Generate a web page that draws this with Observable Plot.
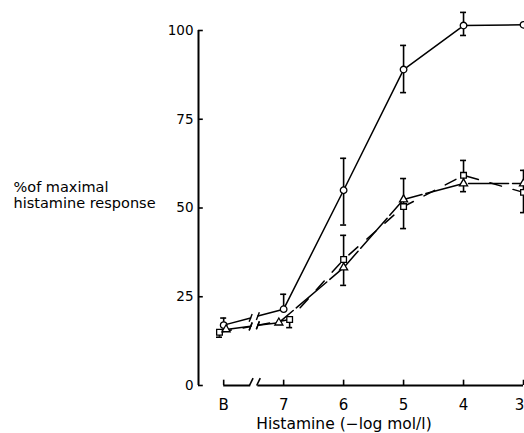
<!DOCTYPE html>
<html>
<head>
<meta charset="utf-8">
<script src="https://cdn.jsdelivr.net/npm/d3@7"></script>
<script src="https://cdn.jsdelivr.net/npm/@observablehq/plot@0.6"></script>
<style>
  html, body { margin: 0; padding: 0; background: white; }
</style>
</head>
<body>
<div id="chart"></div>
<script>
// ---- data ----
const xTickValues = [8, 7, 6, 5, 4, 3];          // 8 stands for "B" (basal)
const xTickLabels = ["B", "7", "6", "5", "4", "3"];
const yTicks = [0, 25, 50, 75, 100];

const circleX = [8, 7, 6, 5, 4, 3];
const circleY = [17, 21.5, 55, 89, 101.4, 101.6];
const circleErrUp = [2, 4.2, 9, 6.8, 3.7, 0];
const circleErrDown = [0, 0, 9.8, 6.5, 2.8, 0];

const squareX = [8.07, 6.9, 6, 5, 4, 3];
const squareY = [15, 18.6, 35.5, 50.4, 59.2, 54.4];
const squareErrUp = [0, 0, 6.8, 7.9, 4.2, 6.2];
const squareErrDown = [1.4, 2.3, 7.3, 6.2, 4.6, 5.7];

const triangleX = [7.96, 7.08, 6, 5, 4, 3];
const triangleY = [15.8, 17.7, 33.2, 52.4, 56.9, 56.9];

const yLabel = "%of maximal\nhistamine response";
const xLabel = "Histamine (\u2212log mol/l)";

// axis break between B and 7
const breakLeft = 7.55, breakRight = 7.43;
const yAxisAt = 8.42;

// ---- build tables ----
const series = [
  {name: "circle", symbol: "circle", r: 4.2, dash: null, xs: circleX, ys: circleY, up: circleErrUp, down: circleErrDown},
  {name: "square", symbol: "square", r: 4, dash: "12,12", xs: squareX, ys: squareY, up: squareErrUp, down: squareErrDown},
  {name: "triangle", symbol: "triangle", r: 3.5, dash: "40,4", xs: triangleX, ys: triangleY, up: null, down: null}
];

const points = series.flatMap(s => s.xs.map((x, i) => ({
  series: s.name, symbol: s.symbol, r: s.r, x, y: s.ys[i],
  up: s.up ? s.up[i] : 0, down: s.down ? s.down[i] : 0
})));

const segments = [];
const slashes = [];
for (const s of series) {
  const x0 = s.xs[0], y0 = s.ys[0], x1 = s.xs[1], y1 = s.ys[1];
  const at = bx => y0 + (y1 - y0) * (bx - x0) / (x1 - x0);
  const yl = at(breakLeft), yr = at(breakRight);
  segments.push({key: s.name + "-a", dash: s.dash, pts: [{x: x0, y: y0}, {x: breakLeft, y: yl}]});
  segments.push({key: s.name + "-b", dash: s.dash, pts: [{x: breakRight, y: yr}, ...s.xs.slice(1).map((x, i) => ({x, y: s.ys[i + 1]}))]});
  slashes.push({x: breakLeft, y: yl}, {x: breakRight, y: yr});
}
const lineRows = segments.flatMap(seg => seg.pts.map(p => ({...p, key: seg.key, dash: seg.dash})));

const errRows = points.filter(p => p.up > 0 || p.down > 0);

const chart = Plot.plot({
  width: 524,
  height: 433,
  marginLeft: 198,
  marginRight: 1,
  marginTop: 30,
  marginBottom: 48,
  x: {domain: [yAxisAt, 3], axis: null},
  y: {domain: [0, 100], axis: null},
  style: {fontFamily: "'DejaVu Sans', sans-serif", fontSize: "14px", background: "white", color: "black", overflow: "visible"},
  marks: [
    // y axis
    Plot.ruleX([yAxisAt], {y1: 0, y2: 100, stroke: "black", strokeWidth: 2}),
    Plot.ruleY(yTicks, {y: d => d, x1: yAxisAt, x2: yAxisAt - 0.08, stroke: "black", strokeWidth: 1.6}),
    Plot.text(yTicks, {x: yAxisAt, y: d => d, text: d => String(d), textAnchor: "end", dx: -5, fontSize: 13.5}),
    Plot.text([yLabel], {frameAnchor: "left", y: 50, dx: -185, dy: -13, textAnchor: "start", lineAnchor: "middle", lineHeight: 1.05, fontSize: 14.5}),
    // x axis with break
    Plot.ruleY([0], {x1: 8, x2: breakLeft, stroke: "black", strokeWidth: 2}),
    Plot.ruleY([0], {x1: breakRight, x2: 3, stroke: "black", strokeWidth: 2}),
    Plot.link([breakLeft, breakRight], {x1: d => d + 0.02, y1: 0, x2: d => d - 0.04, y2: 2.1, stroke: "black", strokeWidth: 1.6}),
    Plot.ruleX(xTickValues, {x: d => d, y1: 0, y2: 1.5, stroke: "black", strokeWidth: 1.6}),
    Plot.text(xTickValues.slice(0, 5), {x: d => d, y: 0, text: (d, i) => xTickLabels[i], dy: 20, lineAnchor: "middle", fontSize: 15}),
    Plot.text(xTickValues.slice(5), {x: d => d, y: 0, text: (d, i) => xTickLabels[5 + i], dx: -4, dy: 20, lineAnchor: "middle", fontSize: 15}),
    Plot.text([xLabel], {frameAnchor: "bottom", dx: -17, dy: 39, lineAnchor: "middle", fontSize: 15.5}),
    // lines
    Plot.line(lineRows.filter(d => d.dash === null), {x: "x", y: "y", z: "key", stroke: "black", strokeWidth: 1.5}),
    Plot.line(lineRows.filter(d => d.key.startsWith("square")), {x: "x", y: "y", z: "key", stroke: "black", strokeWidth: 1.5, strokeDasharray: "12,12"}),
    Plot.line(lineRows.filter(d => d.key.startsWith("triangle")), {x: "x", y: "y", z: "key", stroke: "black", strokeWidth: 1.5, strokeDasharray: "40,4"}),
    Plot.link(slashes, {x1: d => d.x + 0.025, y1: d => d.y - 1.1, x2: d => d.x - 0.025, y2: d => d.y + 1.1, stroke: "black", strokeWidth: 1.4}),
    // error bars
    Plot.ruleX(errRows, {x: "x", y1: d => d.y - d.down, y2: d => d.y + d.up, stroke: "black", strokeWidth: 1.6}),
    Plot.ruleY(errRows.filter(d => d.up > 0), {y: d => d.y + d.up, x1: d => d.x + 0.05, x2: d => d.x - 0.05, stroke: "black", strokeWidth: 1.6}),
    Plot.ruleY(errRows.filter(d => d.down > 0), {y: d => d.y - d.down, x1: d => d.x + 0.05, x2: d => d.x - 0.05, stroke: "black", strokeWidth: 1.6}),
    // markers
    Plot.dot(points, {x: "x", y: "y", symbol: "symbol", r: "r", fill: "white", stroke: "black", strokeWidth: 1.3})
  ]
});
document.getElementById("chart").appendChild(chart);
</script>
</body>
</html>
